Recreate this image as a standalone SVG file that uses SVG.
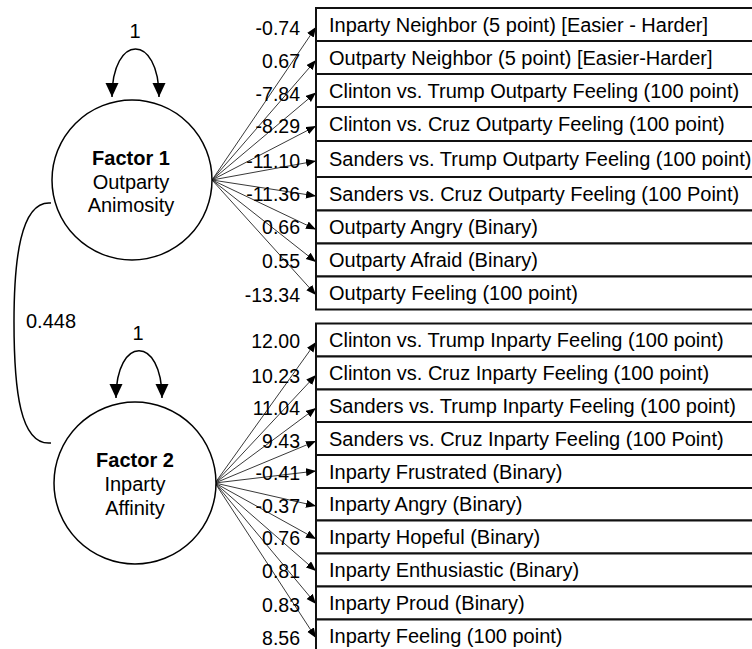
<svg xmlns="http://www.w3.org/2000/svg" width="752" height="649" viewBox="0 0 752 649">
<style>
text{font-family:"Liberation Sans",Arial,sans-serif;fill:#000}
.lbl{font-size:20px}
.num{font-size:19.5px;text-anchor:end}
.fac{font-size:20px;text-anchor:middle}
.b{font-weight:bold}
.box{fill:#fff;stroke:#111;stroke-width:2}
.circ{fill:#fff;stroke:#000;stroke-width:1.5}
.load{fill:none;stroke:#222;stroke-width:0.9;marker-end:url(#ah)}
.loop{fill:none;stroke:#000;stroke-width:1.5;marker-end:url(#big);marker-start:url(#big)}
</style>
<defs>
<marker id="ah" markerUnits="userSpaceOnUse" markerWidth="11" markerHeight="9" refX="10" refY="4" orient="auto"><path d="M0,0 L10,4 L0,8 z" fill="#000"/></marker>
<marker id="big" markerUnits="userSpaceOnUse" markerWidth="14" markerHeight="14" refX="14" refY="6.5" orient="auto-start-reverse"><path d="M0,0 L14,6.5 L0,13 z" fill="#000"/></marker>
</defs>
<rect width="752" height="649" fill="#fff"/>

<g id="connectors">
<path class="loop" d="M112,97 C112,33 159,33 159,97"/>
<path class="loop" d="M116,398 C116,335 162,335 162,398"/>
<path d="M51,203 C20,200 14,262 14,322 C14,390 20,446 51,443" fill="none" stroke="#000" stroke-width="1.5"/>
<path class="load" d="M212,180 L316,27"/>
<path class="load" d="M212,180 L316,60"/>
<path class="load" d="M212,180 L316,92.5"/>
<path class="load" d="M212,180 L316,126"/>
<path class="load" d="M212,180 L316,161"/>
<path class="load" d="M212,180 L316,196"/>
<path class="load" d="M212,180 L316,229.5"/>
<path class="load" d="M212,180 L316,262"/>
<path class="load" d="M212,180 L316,295"/>
<path class="load" d="M215,483 L316,342"/>
<path class="load" d="M215,483 L316,375"/>
<path class="load" d="M215,483 L316,408"/>
<path class="load" d="M215,483 L316,441"/>
<path class="load" d="M215,483 L316,471"/>
<path class="load" d="M215,483 L316,506"/>
<path class="load" d="M215,483 L316,539"/>
<path class="load" d="M215,483 L316,571"/>
<path class="load" d="M215,483 L316,604"/>
<path class="load" d="M215,483 L316,638"/>
<text x="135" y="38" class="fac">1</text>
<text x="138" y="340" class="fac">1</text>
<text x="51" y="328" class="fac">0.448</text>
<text x="300" y="35" class="num">-0.74</text>
<text x="300" y="68" class="num">0.67</text>
<text x="300" y="101" class="num">-7.84</text>
<text x="300" y="133" class="num">-8.29</text>
<text x="300" y="168" class="num">-11.10</text>
<text x="300" y="201" class="num">-11.36</text>
<text x="300" y="234" class="num">0.66</text>
<text x="300" y="268" class="num">0.55</text>
<text x="300" y="301.5" class="num">-13.34</text>
<text x="300" y="348" class="num">12.00</text>
<text x="300" y="383" class="num">10.23</text>
<text x="300" y="415" class="num">11.04</text>
<text x="300" y="448" class="num">9.43</text>
<text x="300" y="480" class="num">-0.41</text>
<text x="300" y="513" class="num">-0.37</text>
<text x="300" y="545" class="num">0.76</text>
<text x="300" y="578" class="num">0.81</text>
<text x="300" y="611.5" class="num">0.83</text>
<text x="300" y="645" class="num">8.56</text>
</g>

<g id="factor1">
<circle class="circ" cx="132" cy="180" r="80"/>
<text x="131" y="165" class="fac b">Factor 1</text>
<text x="131" y="188.5" class="fac">Outparty</text>
<text x="131" y="212" class="fac">Animosity</text>
</g>
<g id="factor2">
<circle class="circ" cx="135" cy="483" r="81"/>
<text x="135" y="467" class="fac b">Factor 2</text>
<text x="135" y="491" class="fac">Inparty</text>
<text x="135" y="515" class="fac">Affinity</text>
</g>

<g id="ind1"><rect class="box" x="316" y="8" width="460" height="33"/><text class="lbl" x="329" y="31.5">Inparty Neighbor (5 point) [Easier - Harder]</text></g>
<g id="ind2"><rect class="box" x="316" y="41" width="460" height="33"/><text class="lbl" x="329" y="64.5">Outparty Neighbor (5 point) [Easier-Harder]</text></g>
<g id="ind3"><rect class="box" x="316" y="74" width="460" height="33"/><text class="lbl" x="329" y="97.5">Clinton vs. Trump Outparty Feeling (100 point)</text></g>
<g id="ind4"><rect class="box" x="316" y="107" width="460" height="34"/><text class="lbl" x="329" y="131">Clinton vs. Cruz Outparty Feeling (100 point)</text></g>
<g id="ind5"><rect class="box" x="316" y="141" width="460" height="36"/><text class="lbl" x="329" y="166">Sanders vs. Trump Outparty Feeling (100 point)</text></g>
<g id="ind6"><rect class="box" x="316" y="177" width="460" height="33.5"/><text class="lbl" x="329" y="201">Sanders vs. Cruz Outparty Feeling (100 Point)</text></g>
<g id="ind7"><rect class="box" x="316" y="210.5" width="460" height="33"/><text class="lbl" x="329" y="234">Outparty Angry (Binary)</text></g>
<g id="ind8"><rect class="box" x="316" y="243.5" width="460" height="33"/><text class="lbl" x="329" y="267">Outparty Afraid (Binary)</text></g>
<g id="ind9"><rect class="box" x="316" y="276.5" width="460" height="33"/><text class="lbl" x="329" y="300">Outparty Feeling (100 point)</text></g>

<g id="ind10"><rect class="box" x="316" y="323.5" width="460" height="33"/><text class="lbl" x="329" y="347">Clinton vs. Trump Inparty Feeling (100 point)</text></g>
<g id="ind11"><rect class="box" x="316" y="356.5" width="460" height="33"/><text class="lbl" x="329" y="380">Clinton vs. Cruz Inparty Feeling (100 point)</text></g>
<g id="ind12"><rect class="box" x="316" y="389.5" width="460" height="32.5"/><text class="lbl" x="329" y="413">Sanders vs. Trump Inparty Feeling (100 point)</text></g>
<g id="ind13"><rect class="box" x="316" y="422" width="460" height="33"/><text class="lbl" x="329" y="445.5">Sanders vs. Cruz Inparty Feeling (100 Point)</text></g>
<g id="ind14"><rect class="box" x="316" y="455" width="460" height="33"/><text class="lbl" x="329" y="478.5">Inparty Frustrated (Binary)</text></g>
<g id="ind15"><rect class="box" x="316" y="488" width="460" height="32.5"/><text class="lbl" x="329" y="511">Inparty Angry (Binary)</text></g>
<g id="ind16"><rect class="box" x="316" y="520.5" width="460" height="33"/><text class="lbl" x="329" y="544">Inparty Hopeful (Binary)</text></g>
<g id="ind17"><rect class="box" x="316" y="553.5" width="460" height="33"/><text class="lbl" x="329" y="577">Inparty Enthusiastic (Binary)</text></g>
<g id="ind18"><rect class="box" x="316" y="586.5" width="460" height="33"/><text class="lbl" x="329" y="610">Inparty Proud (Binary)</text></g>
<g id="ind19"><rect class="box" x="316" y="619.5" width="460" height="33"/><text class="lbl" x="329" y="643">Inparty Feeling (100 point)</text></g>
</svg>
